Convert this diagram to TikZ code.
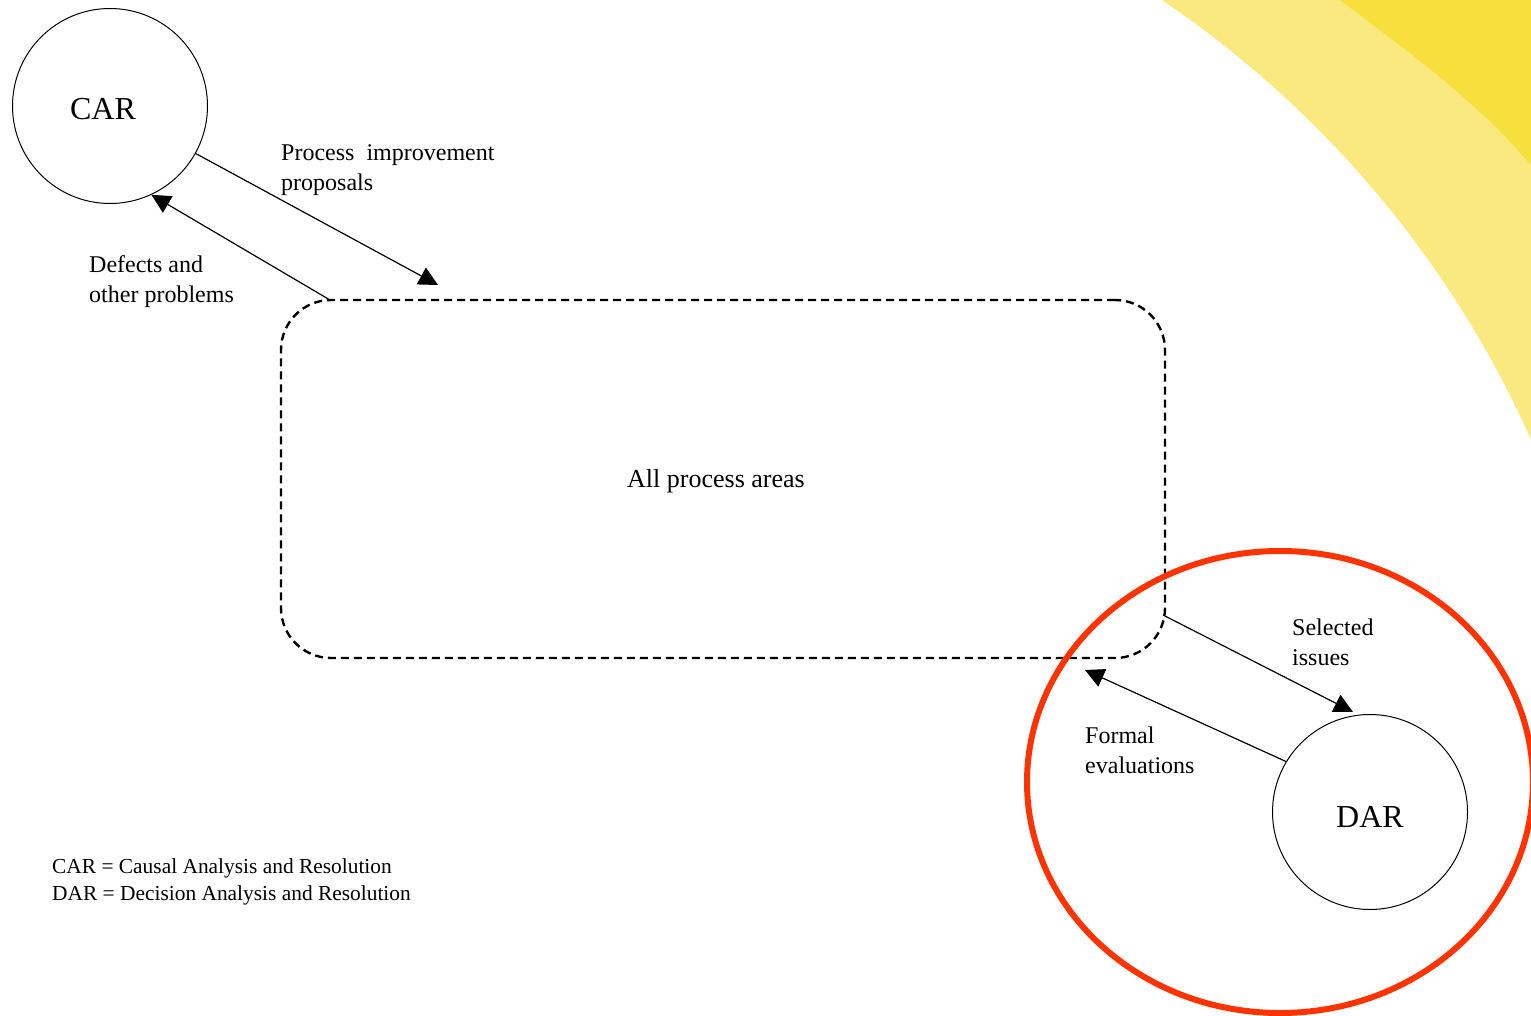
\documentclass[tikz,border=0pt]{standalone}
\usepackage{fontspec}
\setmainfont{Liberation Serif}
\usetikzlibrary{arrows.meta,shapes.geometric}
\definecolor{lightY}{HTML}{F9E97F}
\definecolor{darkY}{HTML}{F8E03C}
\definecolor{focusred}{HTML}{FF3300}
\begin{document}
\begin{tikzpicture}[x=1pt,y=-1pt,
  lbl/.style={inner sep=0pt, anchor=north west, align=left, font=\fontsize{24}{30}\selectfont},
  conn/.style={line width=1.2pt, -{Triangle[length=19pt,width=19pt]}},
  paBox/.style={draw, line width=2.4pt, dash pattern=on 8pt off 5pt, rounded corners=50pt,
    minimum width=884pt, minimum height=358pt, font=\fontsize{26}{30}\selectfont},
  areaCircle/.style={circle, draw, line width=1pt, minimum size=195pt, inner sep=0pt,
    font=\fontsize{32}{38}\selectfont},
  focusRing/.style={ellipse, draw=focusred, line width=6pt, minimum width=506pt, minimum height=462pt}
]
\useasboundingbox (0,0) rectangle (1531,1016);
\begin{scope}
  \clip (0,0) rectangle (1531,1016);
  \fill[lightY] (1100,0) rectangle (1531,500);
  \fill[white] (579,864) circle (1042pt);
  \fill[darkY] (1340,0) .. controls (1420,60) and (1480,105) .. (1531,165) -- (1531,0) -- cycle;
\end{scope}

\node[paBox] (pa) at (723,479) {\raisebox{-2pt}[\height][\depth]{All process areas}\hspace*{14pt}};
\node[areaCircle] (car) at (110,106) {\raisebox{-3pt}[\height][\depth]{CAR}\hspace*{14pt}};
\node[focusRing] (focus) at (1280,782) {};
\node[areaCircle] (dar) at (1370,812) {\raisebox{-5pt}[\height][\depth]{DAR}};

\coordinate (pipEnd) at (438,285);
\coordinate (defStart) at (330,300);
\coordinate (selStart) at (1163,615);
\coordinate (selEnd) at (1353,712);
\coordinate (feEnd) at (1085,670);

\draw[conn] (car.-29) -- (pipEnd);
\draw[conn] (defStart) -- (car.-65);
\draw[conn] (selStart) -- (selEnd);
\draw[conn] (dar.149) -- (feEnd);

\node[lbl] (pipL) at (281,144) {Process\ \ improvement\\proposals};
\node[lbl] (defL) at (89,255) {Defects and\\other problems};
\node[lbl] (selL) at (1292,619) {Selected\\issues};
\node[lbl] (feL) at (1085,727) {Formal\\evaluations};
\node[lbl, font=\fontsize{21.4}{27}\selectfont] (legend) at (52,858)
  {CAR = Causal Analysis and Resolution\\DAR = Decision Analysis and Resolution};
\end{tikzpicture}
\end{document}
